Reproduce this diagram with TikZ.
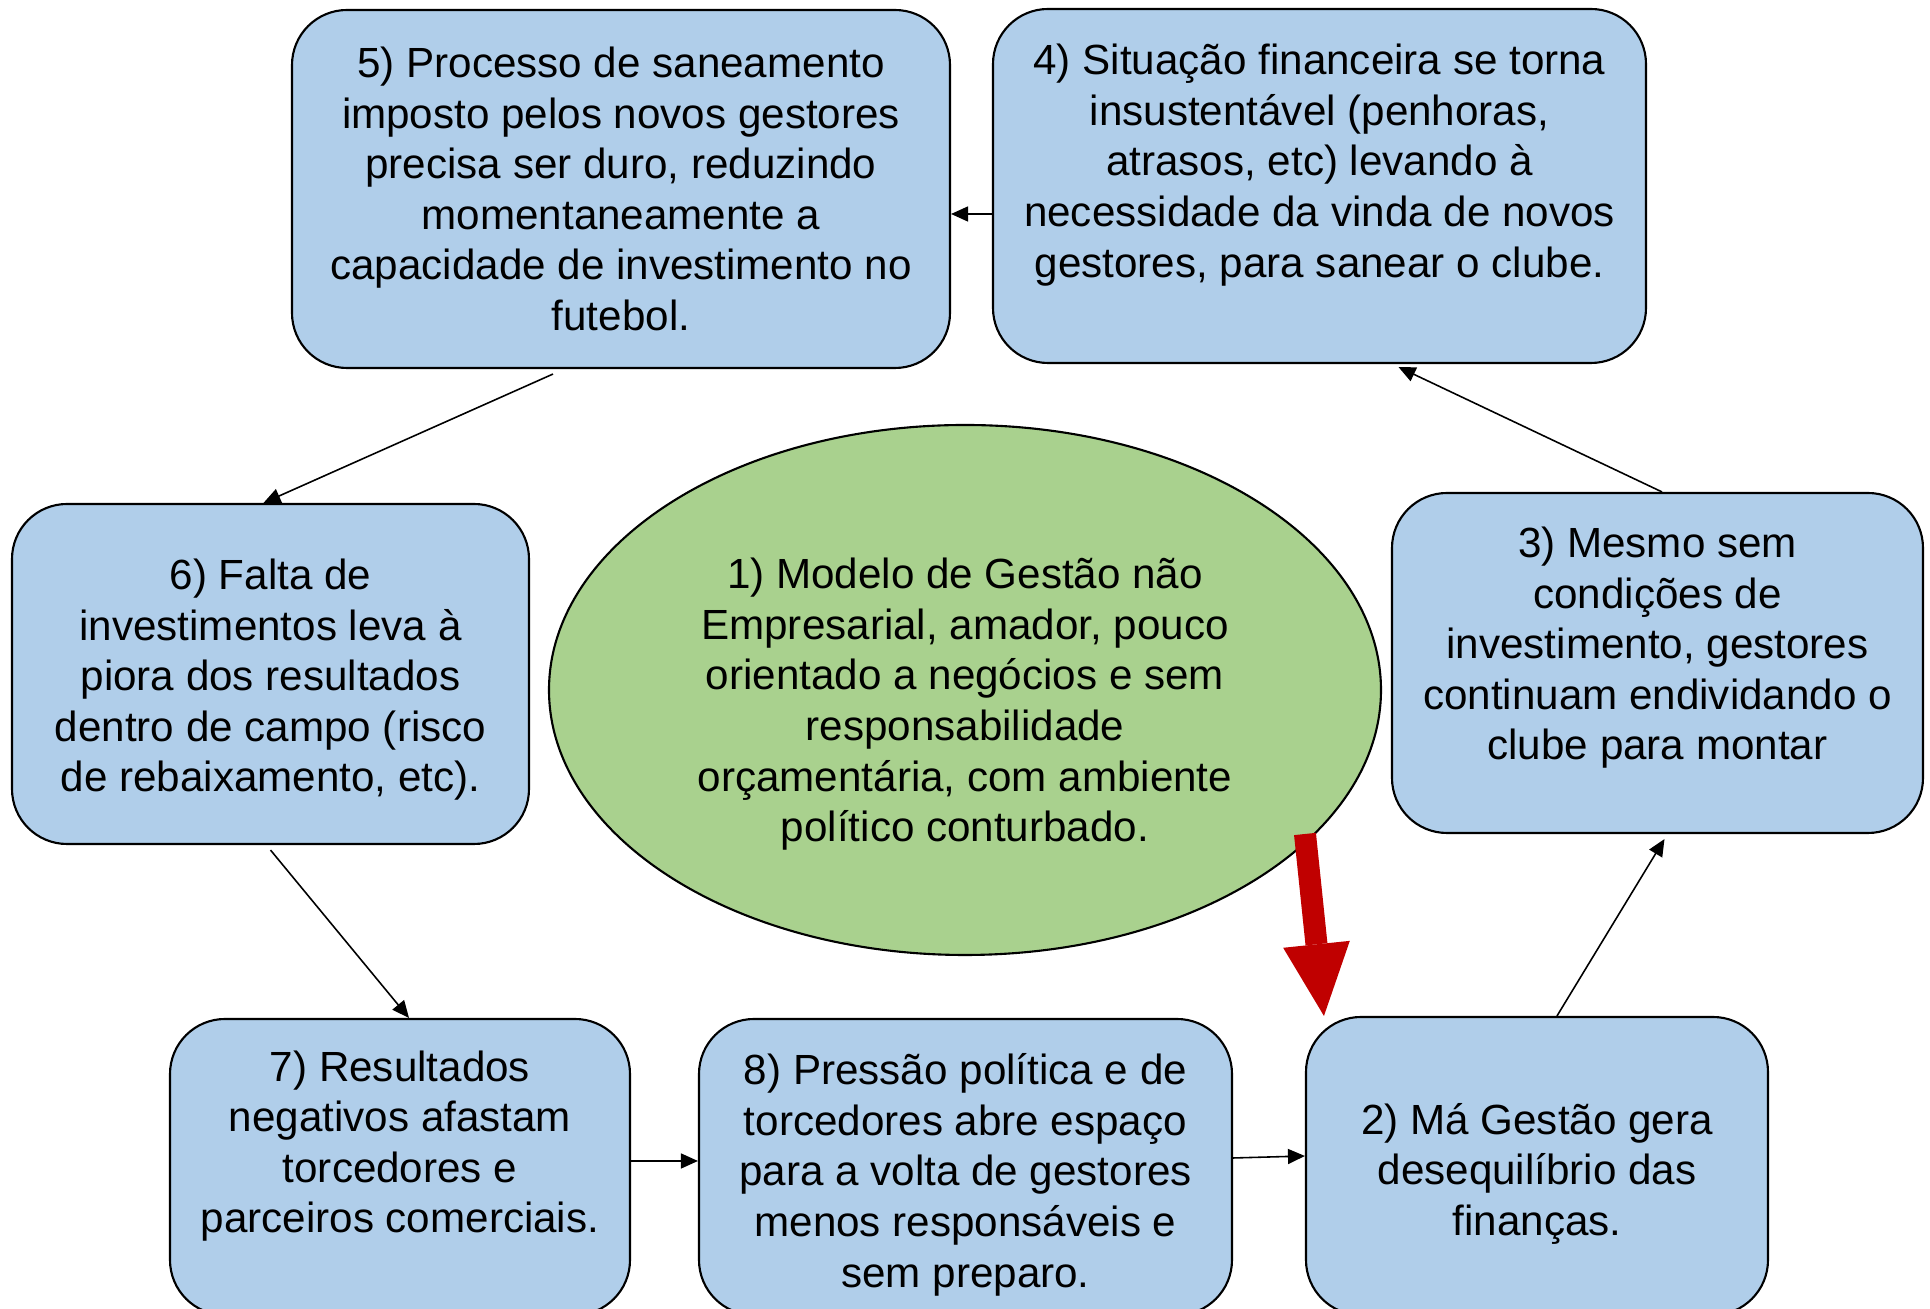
\documentclass[tikz,border=0pt]{standalone}
\usepackage{fontspec}
\setmainfont{Liberation Sans}
\usepackage{tikz}
\usetikzlibrary{shapes.geometric,arrows.meta,calc}

\definecolor{azulcaixa}{RGB}{176,206,234}
\definecolor{verdecentro}{RGB}{169,209,142}
\definecolor{vermelhoseta}{RGB}{192,0,0}

\begin{document}
\begin{tikzpicture}[
    etapa/.style={draw, line width=0.6pt, fill=azulcaixa, rounded corners=0.55cm,
      align=center, inner sep=0pt, font=\fontsize{12}{14.4}\selectfont},
    centro/.style={draw, line width=0.6pt, fill=verdecentro, ellipse, inner sep=0pt,
      align=center, font=\fontsize{12}{14.4}\selectfont},
    seta/.style={line width=0.45pt, -{Triangle[length=0.17cm,width=0.15cm]}},
    setagrossa/.style={draw=vermelhoseta, line width=0.22cm,
      -{Triangle[length=0.72cm,width=0.67cm,line width=0pt]}}
  ]

    \useasboundingbox (0,0) rectangle (19.30,-13.09);
    \clip (0,0) rectangle (19.30,-13.09);

    \node[etapa, minimum width=6.58cm, minimum height=3.58cm] (b5) at (6.21,-1.89)
      {5) Processo de saneamento\\imposto pelos novos gestores\\precisa ser duro, reduzindo\\momentaneamente a\\capacidade de investimento no\\futebol.};

    \node[etapa, minimum width=6.53cm, minimum height=3.54cm] (b4) at (13.195,-1.86)
      {4) Situação financeira se torna\\insustentável (penhoras,\\atrasos, etc) levando à\\necessidade da vinda de novos\\gestores, para sanear o clube.\\ \mbox{}};

    \node[etapa, minimum width=5.17cm, minimum height=3.40cm] (b6) at (2.705,-6.74)
      {\rule{0pt}{1.0em}6) Falta de\\investimentos leva à\\piora dos resultados\\dentro de campo (risco\\de rebaixamento, etc).};

    \node[centro, minimum width=8.32cm, minimum height=5.30cm] (b1) at (9.65,-6.90)
      {\rule{0pt}{1.4em}1) Modelo de Gestão não\\Empresarial, amador, pouco\\orientado a negócios e sem\\responsabilidade\\orçamentária, com ambiente\\político conturbado.};

    \node[etapa, minimum width=5.31cm, minimum height=3.40cm] (b3) at (16.575,-6.63)
      {\rule{0pt}{1.0em}3) Mesmo sem\\condições de\\investimento, gestores\\continuam endividando o\\clube para montar\\ \mbox{}};

    \node[etapa, minimum width=4.60cm, minimum height=2.96cm] (b7) at (4.00,-11.67)
      {7) Resultados\\negativos afastam\\torcedores e\\parceiros comerciais.\\ \mbox{}};

    \node[etapa, minimum width=5.33cm, minimum height=2.96cm] (b8) at (9.655,-11.67)
      {\rule{0pt}{1.1em}8) Pressão política e de\\torcedores abre espaço\\para a volta de gestores\\menos responsáveis e\\sem preparo.};

    \node[etapa, minimum width=4.62cm, minimum height=2.98cm] (b2) at (15.37,-11.66)
      {\rule{0pt}{1.1em}2) Má Gestão gera\\desequilíbrio das\\finanças.};



    \draw[seta] ([yshift=-2.8mm]b4.west) -- ([yshift=-2.5mm]b5.east);

    \draw[seta] ([shift={(-0.68,-0.05)}]b5.south) -- ([xshift=-0.07cm]b6.north);

    \draw[seta] ([yshift=-0.05cm]b6.south) -- ([xshift=0.09cm]b7.north);

    \draw[seta] ([yshift=0.06cm]b7.east) -- ([yshift=0.06cm]b8.west);

    \draw[seta] ([yshift=0.09cm]b8.east) -- ([yshift=0.10cm]b2.west);

    \draw[seta] ([xshift=0.20cm]b2.north) -- ([shift={(0.07,-0.05)}]b3.south);

    \draw[seta] ([xshift=0.045cm]b3.north) -- ([shift={(0.79,-0.03)}]b4.south);

    \draw[setagrossa] ([shift={(3.40,-1.44)}]b1.center) -- ([xshift=0.19cm]b2.north west);

  \end{tikzpicture}
\end{document}
